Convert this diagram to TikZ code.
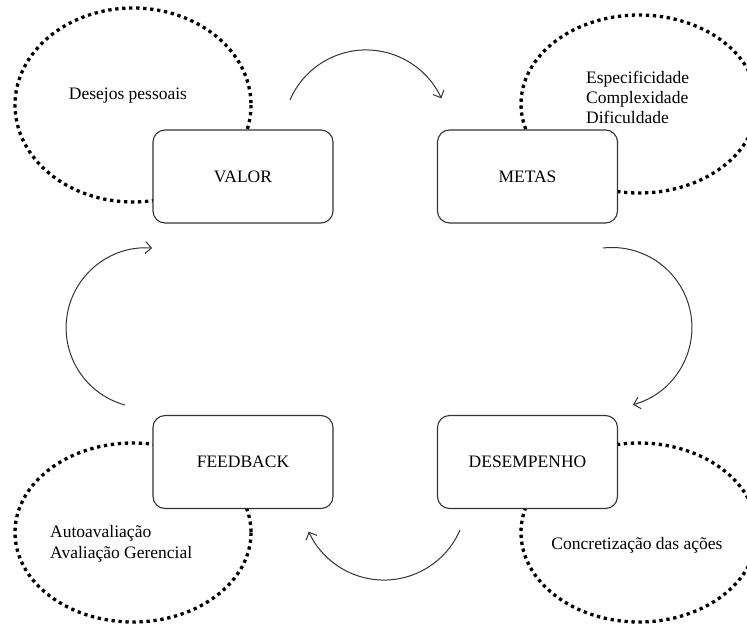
\documentclass[tikz,border=0pt]{standalone}
\usepackage{fontspec}
\setmainfont{Liberation Serif}
\usetikzlibrary{arrows.meta}
\begin{document}
\begin{tikzpicture}[x=1pt,y=-1pt,
  box/.style={draw=black!80, line width=1.1pt, fill=white, rounded corners=12pt,
    minimum width=180pt, minimum height=93pt, inner sep=0pt,
    font=\fontsize{17.5}{21}\selectfont},
  dotring/.style={line width=3.3pt, dash pattern=on 3.3pt off 3.7pt, black},
  lbl/.style={inner sep=0pt, font=\fontsize{17.5}{21}\selectfont},
  flow/.style={draw=black!80, line width=1pt, -{Straight Barb[length=6pt,width=12pt]}}]
\clip (0,0) rectangle (747,624);
\fill[white] (0,0) rectangle (747,624);

% dotted ellipses
\draw[dotring] (133,105) ellipse [x radius=118, y radius=97];
\draw[dotring] (639,104) ellipse [x radius=118, y radius=89];
\draw[dotring] (133,532.5) ellipse [x radius=118, y radius=89.5];
\draw[dotring] (639,532.5) ellipse [x radius=118, y radius=89.5];

% boxes
\node[box] (valor) at (243,176.5) {VALOR};
\node[box] (metas) at (527.5,176.5) {METAS};
\node[box] (feedback) at (243,462) {FEEDBACK};
\node[box] (desemp) at (527.5,462) {DESEMPENHO};

% ellipse texts
\node[lbl, anchor=base] (desejos) at (128,99) {Desejos pessoais};
\node[lbl, anchor=base west] (esp) at (586,83) {Especificidade};
\node[lbl, anchor=base west] (comp) at (586,103) {Complexidade};
\node[lbl, anchor=base west] (dif) at (586,123) {Dificuldade};
\node[lbl, anchor=base west] (auto) at (50,537) {Autoavaliação};
\node[lbl, anchor=base west] (aval) at (50,558) {Avaliação Gerencial};
\node[lbl, anchor=base] (concr) at (637,549) {Concretização das ações};

% curved arrows
\coordinate (topstart) at (290,100);
\coordinate (rightstart) at (603,248);
\coordinate (bottomstart) at (460,530);
\coordinate (leftstart) at (125,405);
\draw[flow] (topstart) arc[start angle=203.3, end angle=335.4, radius=82.8];
\draw[flow] (rightstart) arc[start angle=-96.4, end angle=74.7, radius=80];
\draw[flow] (bottomstart) arc[start angle=23.3, end angle=155.4, radius=82.8];
\draw[flow] (leftstart) arc[start angle=105.3, end angle=274.3, radius=80];
\end{tikzpicture}
\end{document}
